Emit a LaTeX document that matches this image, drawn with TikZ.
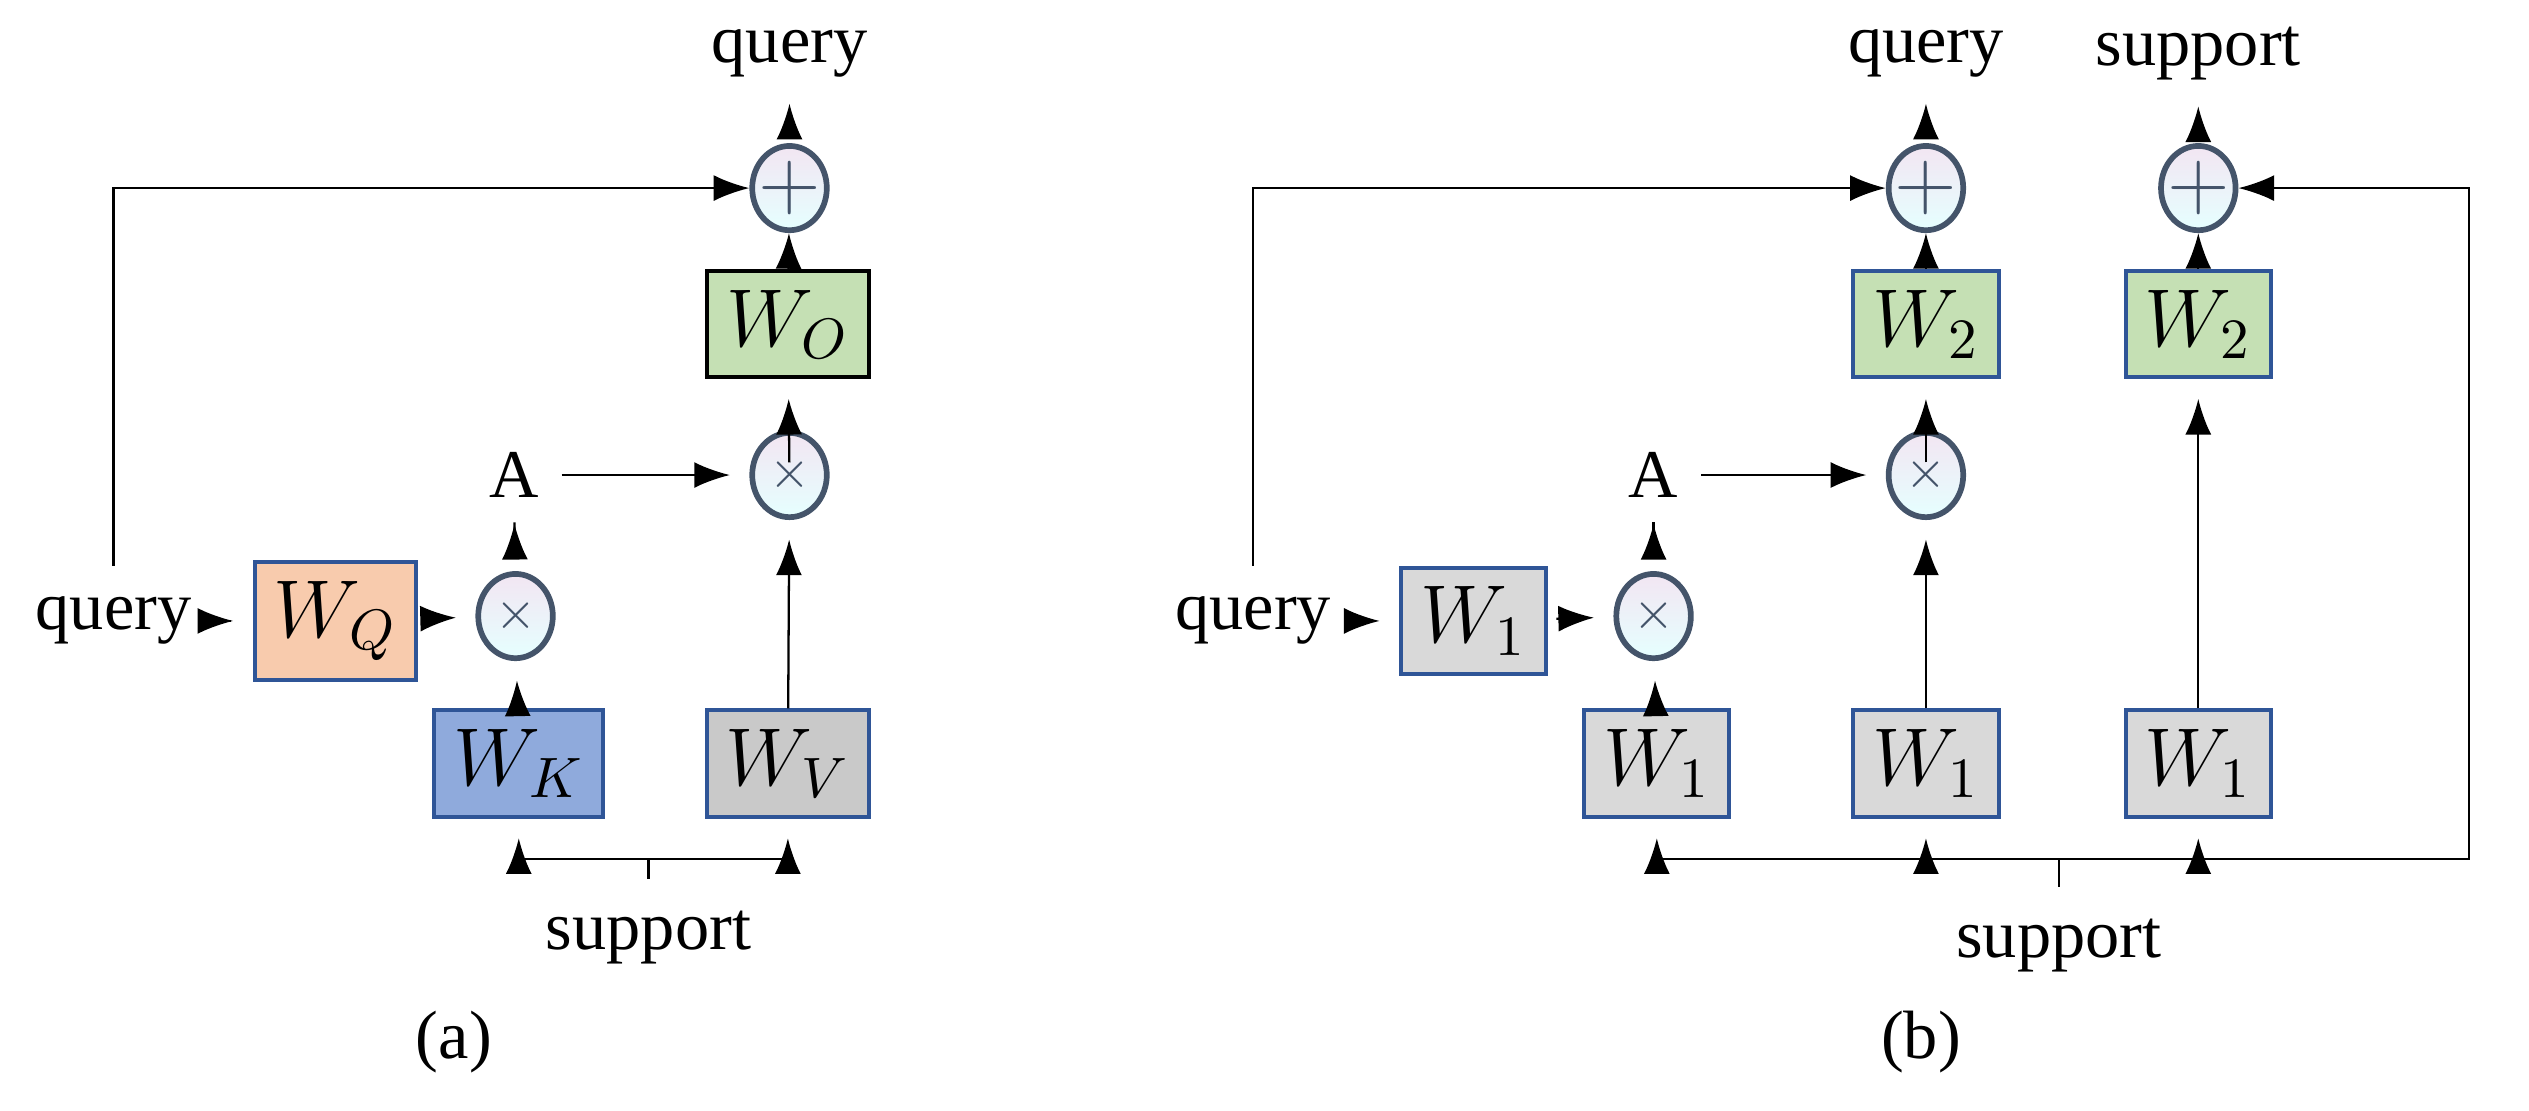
\documentclass[tikz,border=0pt]{standalone}
\usepackage{fontspec}
\setmainfont{Liberation Serif}
\usetikzlibrary{shapes.geometric,arrows.meta}
\definecolor{peach}{HTML}{F8CBAD}
\definecolor{kblue}{HTML}{8FAADC}
\definecolor{vgray}{HTML}{C9C9C9}
\definecolor{lgray}{HTML}{D9D9D9}
\definecolor{lgreen}{HTML}{C5E0B4}
\definecolor{edgeblue}{HTML}{2F5597}
\definecolor{ringgray}{HTML}{44546A}
\tikzset{
  arr/.style={-{Latex[length=2.2mm,width=1.6mm]},shorten >=1.2mm},
  wbox/.style={draw=edgeblue,line width=0.7pt,minimum width=8mm,minimum height=5.4mm,font=\Large},
  op/.style={ellipse,draw=ringgray,line width=1pt,minimum width=4.6mm,minimum height=5.2mm,inner sep=0pt,
    top color=violet!10,bottom color=cyan!10},
  lbl/.style={font=\large,inner sep=1pt}
}
\newcommand{\opsign}[2]{%
  \draw[ringgray,line width=0.4pt] ($(#1)+(-9,0)$) -- ($(#1)+(9,0)$);}
\begin{document}
\begin{tikzpicture}[x=0.1mm,y=-0.1mm]
\useasboundingbox (0,0) rectangle (1560,685);
% (a)
\node[lbl] (qa) at (70,383) {query};
\node[wbox,fill=peach] (wq) at (207,383) {$W_Q$};
\node[op] (ma) at (318,380) {};
\node[lbl] (aa) at (317,293) {A};
\node[op] (mb) at (487,293) {};
\node[wbox,fill=lgreen,draw=black] (wo) at (486,200) {$W_O$};
\node[op] (pa) at (487,116) {};
\node[lbl] (qo) at (487,33) {query};
\node[wbox,fill=kblue] (wk) at (320,471) {$W_K$};
\node[wbox,fill=vgray] (wv) at (486,471) {$W_V$};
\node[lbl] (sa) at (400,578) {support};
\coordinate (ja) at (400,530);
\node[font=\large] (capa) at (280,643) {(a)};
\foreach \n in {ma,mb} \node[font=\small,ringgray] at (\n) {$\times$};
\node[font=\Large,ringgray] at (pa) {$+$};
\draw[arr,shorten <=2mm] (qa) -- (wq);
\draw[arr,shorten <=0.5mm] (wq) -- (ma);
\draw[arr,shorten <=3mm] (ma) -- (aa);
\draw[arr,shorten <=1mm] (aa) -- (mb);
\draw[arr,shorten <=2mm] (mb) -- (wo);
\draw[arr,shorten >=0pt] (wo) -- (pa);
\draw[arr,shorten <=2mm] (pa) -- (qo);
\draw[arr] (wk) -- (ma);
\draw[arr] (wv) -- (mb);
\draw[arr,shorten >=0pt,shorten <=1.5mm] (qa.north) |- (pa);
\draw[arr] (ja) -| (wk);
\draw[arr] (ja) -| (wv);
\draw[shorten >=1.5mm] (ja) -- (sa);
% (b)
\node[lbl] (qb) at (773,383) {query};
\node[wbox,fill=lgray] (wa) at (909,383) {$W_1$};
\node[op] (mc) at (1020,380) {};
\node[lbl] (ab) at (1020,293) {A};
\node[op] (md) at (1188,293) {};
\node[wbox,fill=lgreen] (wb) at (1188,200) {$W_2$};
\node[wbox,fill=lgreen] (wc) at (1356,200) {$W_2$};
\node[op] (pb) at (1188,116) {};
\node[op] (pc) at (1356,116) {};
\node[lbl] (qp) at (1188,33) {query};
\node[lbl] (sp) at (1356,33) {support};
\node[wbox,fill=lgray] (wd) at (1022,471) {$W_1$};
\node[wbox,fill=lgray] (we) at (1188,471) {$W_1$};
\node[wbox,fill=lgray] (wf) at (1356,471) {$W_1$};
\node[lbl] (sb) at (1270,583) {support};
\coordinate (jb) at (1270,530);
\coordinate (jr) at (1523,530);
\node[font=\large] (capb) at (1185,643) {(b)};
\foreach \n in {mc,md} \node[font=\small,ringgray] at (\n) {$\times$};
\foreach \n in {pb,pc} \node[font=\Large,ringgray] at (\n) {$+$};
\draw[arr,shorten <=2mm] (qb) -- (wa);
\draw[arr,shorten <=0.5mm] (wa) -- (mc);
\draw[arr,shorten <=3mm] (mc) -- (ab);
\draw[arr,shorten <=1mm] (ab) -- (md);
\draw[arr,shorten <=2mm] (md) -- (wb);
\draw[arr,shorten >=0pt] (wb) -- (pb);
\draw[arr,shorten >=0pt] (wc) -- (pc);
\draw[arr,shorten <=2mm] (pb) -- (qp);
\draw[arr,shorten <=2mm] (pc) -- (sp);
\draw[arr] (wd) -- (mc);
\draw[arr] (we) -- (md);
\draw[arr] (wf) -- (wc);
\draw[arr,shorten >=0pt,shorten <=1.5mm] (qb.north) |- (pb);
\draw[arr] (jb) -| (wd);
\draw[arr] (jb) -| (we);
\draw[arr] (jb) -| (wf);
\draw[arr,shorten >=0pt] (jb) -- (jr) |- (pc);
\draw[shorten >=1.5mm] (jb) -- (sb);
\end{tikzpicture}
\end{document}
